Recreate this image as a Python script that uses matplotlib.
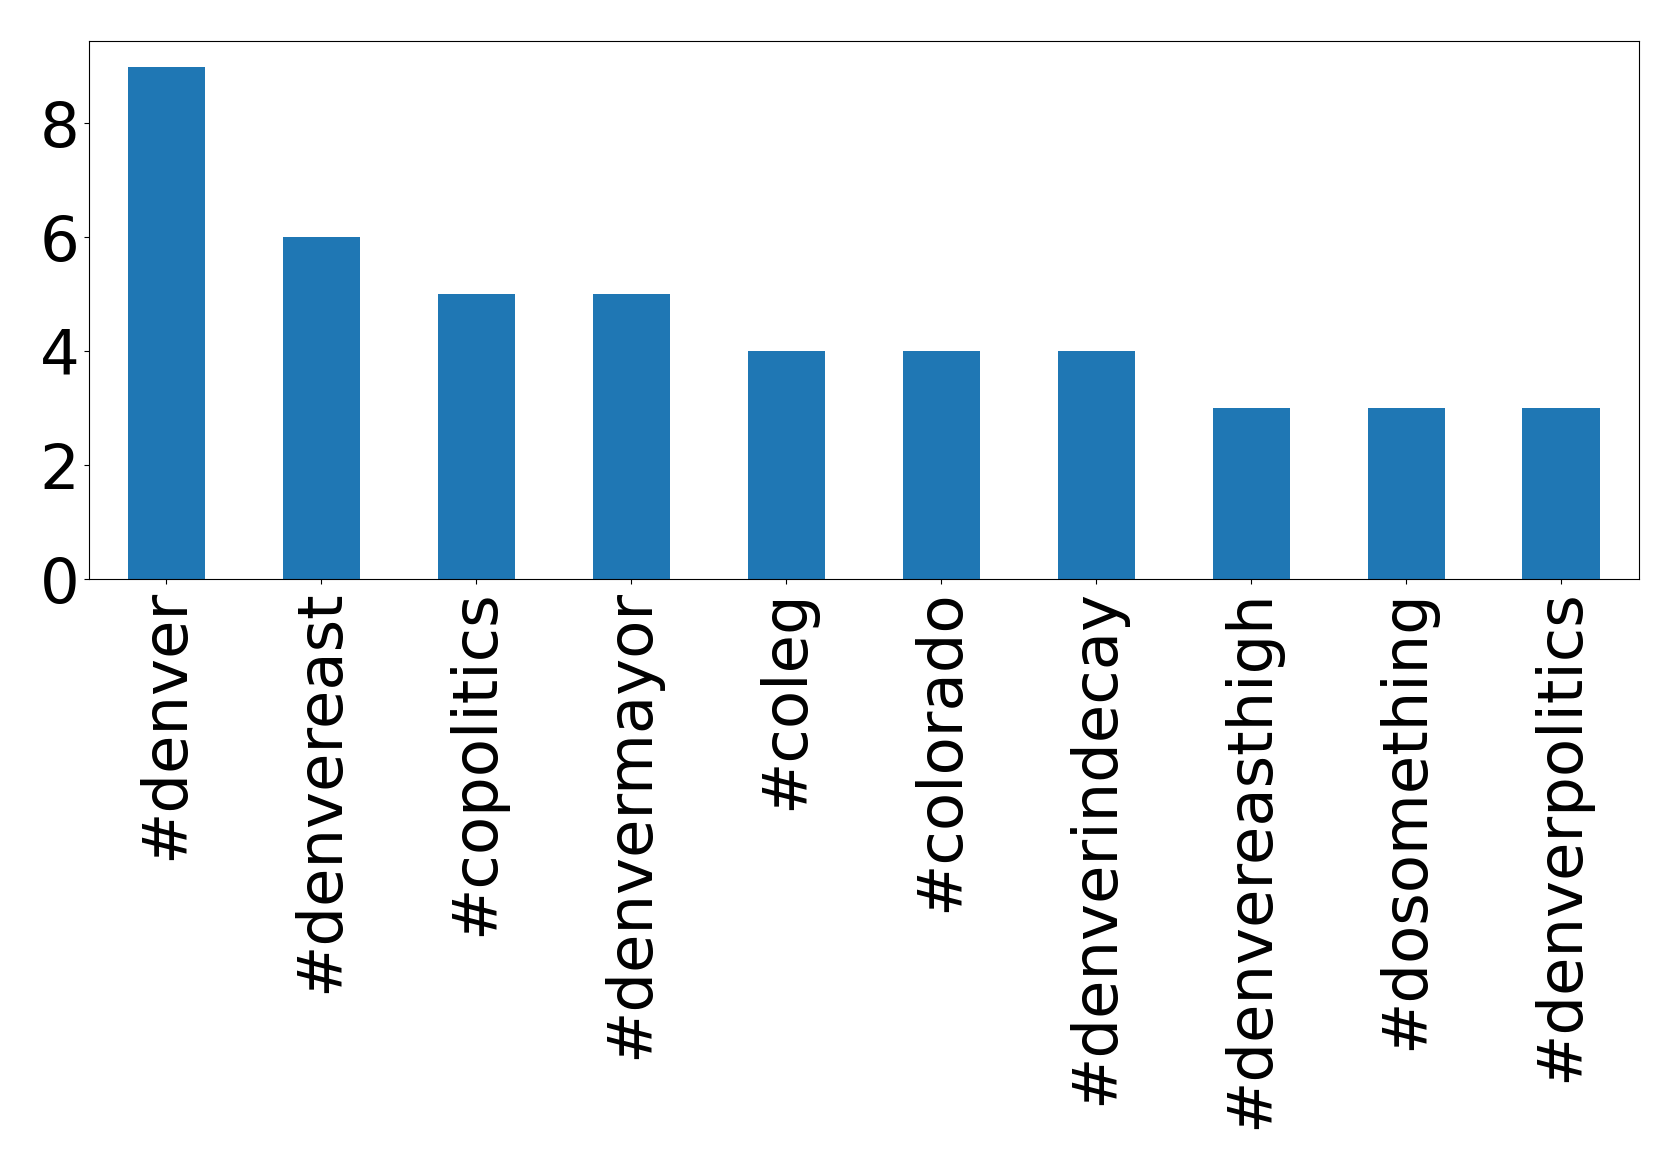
import matplotlib
matplotlib.use("Agg")
import matplotlib.pyplot as plt
import pandas as pd

# top hashtags and their counts
hashtags = ['#denver', '#denvereast', '#copolitics', '#denvermayor', '#coleg',
            '#colorado', '#denverindecay', '#denvereasthigh', '#dosomething',
            '#denverpolitics']
counts = [9, 6, 5, 5, 4, 4, 4, 3, 3, 3]

s = pd.Series(counts, index=hashtags)

fig = plt.figure(figsize=(16.79, 11.68), dpi=100)
ax = fig.add_axes([0.053, 0.504, 0.923, 0.461])
s.plot(kind='bar', ax=ax, color='#1f77b4', fontsize=45)
ax.set_yticks([0, 2, 4, 6, 8])
fig.savefig('out.png', dpi=100)
